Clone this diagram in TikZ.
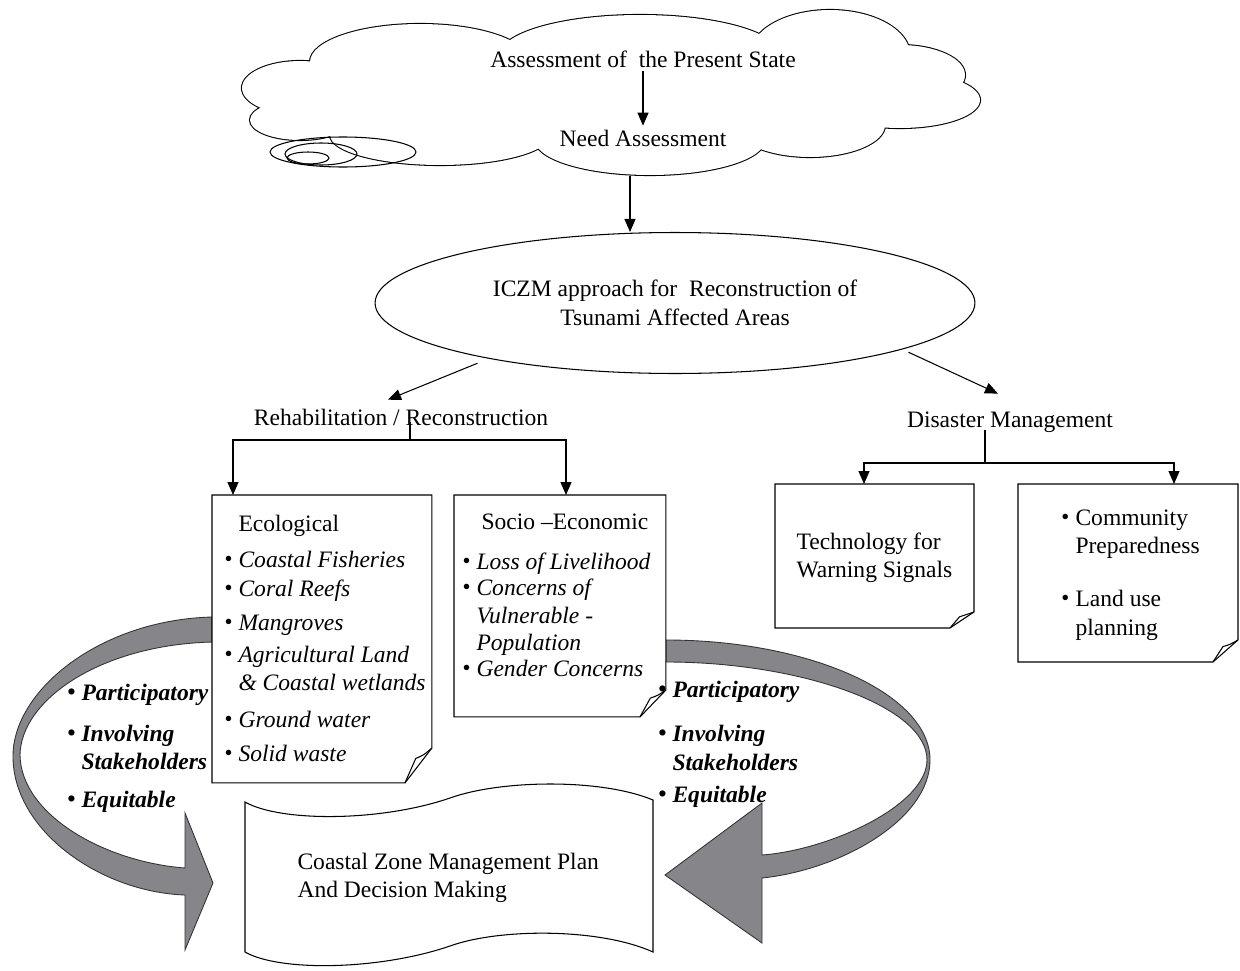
\documentclass[tikz,border=0pt]{standalone}
\usepackage{fontspec}
\setmainfont{Liberation Serif}
\usetikzlibrary{shapes.geometric,arrows.meta,calc}

\definecolor{ribbon}{RGB}{134,134,138}
\newcommand{\bul}{\llap{\raisebox{0.3pt}{\fontsize{13}{13}\selectfont\textbullet}\hspace{3.5pt}}}

\tikzset{
  arr/.style={-{Triangle[length=0.26cm,width=0.22cm]}},
  lbl/.style={anchor=base west, inner sep=0pt},
  page/.style={anchor=north west, inner sep=0pt, outer sep=0pt, rectangle},
  band/.style={fill=ribbon, draw=black!80, line width=0.5pt},
}

\begin{document}
\begin{tikzpicture}[x=0.02cm, y=-0.02cm, line width=0.6pt, inner sep=2pt,
    font=\fontsize{13.4}{16.4}\selectfont]
    \useasboundingbox (0,0) rectangle (1240,970);

    %%% Cloud %%%
    \def\puffs{300/88/58/27, 420/62/110/38, 640/55/140/40, 830/55/80/45, 900/75/65/30,
        900/100/80/28, 810/125/75/32, 650/140/115/35, 440/135/110/30, 300/120/50/20, 610/95/300/55}
    \foreach \cx/\cy/\rx/\ry in \puffs
        \draw[line width=1.2pt] (\cx,\cy) ellipse ({\rx} and {\ry});
    \foreach \cx/\cy/\rx/\ry in \puffs
        \fill[white] (\cx,\cy) ellipse ({\rx} and {\ry});
    \node[inner sep=0pt, minimum width=14.7cm, minimum height=3.2cm] (cloud) at (611,95) {};
    \draw (343,152) ellipse (73 and 15);
    \draw (321,154) ellipse (36 and 11);
    \draw (308,158) ellipse (21 and 6);

    \node (pres) at (643,59) {Assessment of\ \ the Present State};
    \node (need) at (643,138) {Need Assessment};
    \draw[arr] (pres) -- (need);

    %%% ICZM %%%
    \node[ellipse, draw, minimum width=12cm, minimum height=2.82cm, align=center] (iczm) at (675,303)
        {ICZM approach for\ \ Reconstruction of\\Tsunami Affected Areas};
    \coordinate (cx) at (630,0);
    \draw[arr] (cloud.south -| cx) -- (iczm.north -| cx);

    \node (rehab) at (401,417) {Rehabilitation / Reconstruction};
    \node (dm) at (1010,422) {Disaster Management};
    \draw[arr] ($(iczm.south west)+(15,10)$) -- ($(rehab.north)+(-13,-5)$);
    \draw[arr] ($(iczm.south east)+(21,-1)$) -- ($(dm.north)+(-12,-14)$);

    %%% Ribbons %%%
    \draw[band] (212,617) .. controls (100,620) and (14,690) .. (13,755)
        .. controls (12,830) and (100,892) .. (185,895) -- (185,950) -- (213,883)
        -- (185,813) -- (185,868) .. controls (105,862) and (21,815) .. (20,755)
        .. controls (21,700) and (100,645) .. (212,642) -- cycle;
    \draw[band] (666,640) .. controls (810,640) and (930,694) .. (930,760)
        .. controls (930,820) and (840,870) .. (762,878) -- (762,943) -- (665,875)
        -- (762,803) -- (762,855) .. controls (830,850) and (927,805) .. (927,760)
        .. controls (927,706) and (800,662) .. (666,662) -- cycle;

    %%% Pages %%%
    \node[page, minimum width=4.4cm, minimum height=5.76cm] (eco) at (212,495) {};
    \node[page, minimum width=4.24cm, minimum height=4.44cm] (soc) at (454,495) {};
    \node[page, minimum width=3.98cm, minimum height=2.88cm] (tech) at (775,484) {};
    \node[page, minimum width=4.4cm, minimum height=3.56cm] (comm) at (1018,484) {};
    \foreach \n/\dy/\dx in {eco/35/27, soc/27/26, tech/16/24, comm/22/25}{
        \draw[fill=white] (\n.north west) -- (\n.north east) -- ($(\n.south east)+(0,-\dy)$)
            -- ($(\n.south east)+(-\dx,0)$) -- (\n.south west) -- cycle;
        \draw ($(\n.south east)+(0,-\dy)$) .. controls ($(\n.south east)+(-0.3*\dx,-0.8*\dy)$)
            .. ($(\n.south east)+(-0.6*\dx,-0.7*\dy)$) -- ($(\n.south east)+(-\dx,0)$);
    }

    \coordinate (rj) at (410,440);
    \draw ($(rehab.center)+(9,5)$) -- (rj);
    \draw[arr] (rj) -| ($(eco.north west)+(21,0)$);
    \draw[arr] (rj) -| ($(soc.north west)+(112,0)$);
    \coordinate (dj) at (985,463);
    \draw ($(dm.center)+(-25,8)$) -- (dj);
    \draw[arr] (dj) -| ($(tech.north west)+(89,0)$);
    \draw[arr] (dj) -| ($(comm.north west)+(156,0)$);

    % page texts
    \node[lbl] (eco0) at (238,531) {Ecological};
    \foreach \t/\y [count=\i] in {\bul Coastal Fisheries/567, \bul Coral Reefs/596, \bul Mangroves/630,
        \bul Agricultural Land/662, \& Coastal wetlands/690, \bul Ground water/727, \bul Solid waste/761}
        \node[lbl] (eco\i) at (238,\y) {\itshape\t};
    \node[lbl] (soc0) at (481,529) {Socio –Economic};
    \foreach \t/\y [count=\i] in {\bul Loss of Livelihood/569, \bul Concerns of/595, Vulnerable -/623,
        Population/650, \bul Gender Concerns/676}
        \node[lbl] (soc\i) at (476,\y) {\itshape\t};
    \node[lbl] (tech1) at (796,549) {Technology for};
    \node[lbl] (tech2) at (796,577) {Warning Signals};
    \foreach \t/\y [count=\i] in {\bul Community/525, Preparedness/553, \bul Land use/606, planning/635}
        \node[lbl] (comm\i) at (1075,\y) {\t};

    %%% CZM plan %%%
    \draw[fill=white] (245,802) .. controls (280,822) and (380,822) .. (450,798)
        .. controls (500,780) and (600,778) .. (653,800) -- (653,952)
        .. controls (600,928) and (500,928) .. (450,946)
        .. controls (380,970) and (280,972) .. (245,952) -- cycle;
    \node[lbl] (czm1) at (297,869) {Coastal Zone Management Plan};
    \node[lbl] (czm2) at (297,897) {And Decision Making};

    % principles
    \foreach \t/\y [count=\i] in {\bul Participatory/700, \bul Involving/741, Stakeholders/769, \bul Equitable/807}
        \node[lbl] (pl\i) at (81,\y) {\bfseries\itshape\t};
    \foreach \t/\y [count=\i] in {\bul Participatory/697, \bul Involving/741, Stakeholders/770, \bul Equitable/802}
        \node[lbl] (pr\i) at (672,\y) {\bfseries\itshape\t};

\end{tikzpicture}
\end{document}
